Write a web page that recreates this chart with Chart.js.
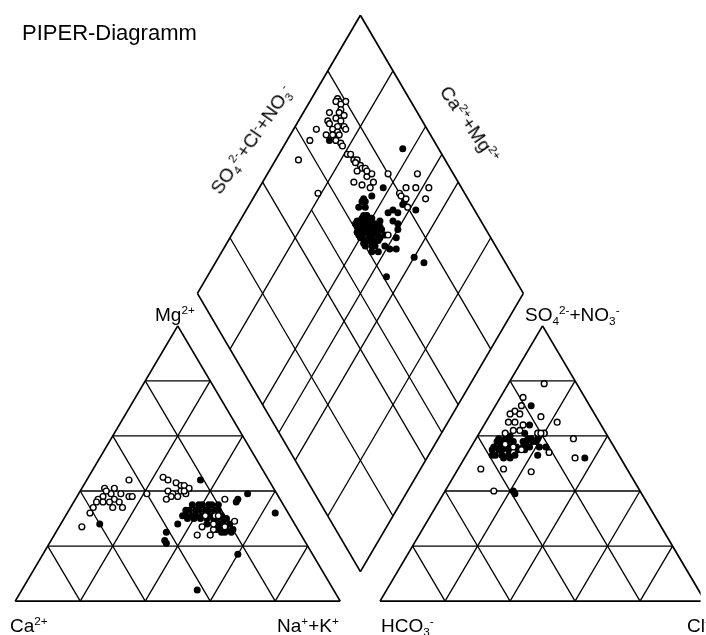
<!DOCTYPE html>
<html>
<head>
<meta charset="utf-8">
<script src="https://cdn.jsdelivr.net/npm/chart.js"></script>
<style>
  body { margin: 0; background: #fff; }
  #wrap { position: relative; width: 706px; height: 635px; overflow: hidden;
          font-family: "Liberation Sans", Arial, sans-serif; color: #000; }
  canvas { position: absolute; left: 0; top: 0; }
  .lbl { position: absolute; white-space: nowrap; line-height: 1; font-size: 19px; }
  .up { font-size: 0.62em; vertical-align: 0.62em; }
  .dn { font-size: 0.62em; vertical-align: -0.3em; }
  .rot { transform-origin: center; }
</style>
</head>
<body>
<div id="wrap">
  <canvas id="piper" width="706" height="635"></canvas>
  <div class="lbl" style="left:22px;top:22px;font-size:22px">PIPER-Diagramm</div>
  <div class="lbl" style="left:155px;top:304px">Mg<span class="up">2+</span></div>
  <div class="lbl" style="left:10px;top:615px">Ca<span class="up">2+</span></div>
  <div class="lbl" style="left:277px;top:615px">Na<span class="up">+</span>+K<span class="up">+</span></div>
  <div class="lbl" style="left:381px;top:615px">HCO<span class="dn">3</span><span class="up">-</span></div>
  <div class="lbl" style="left:687px;top:615px">Cl<span class="up">-</span></div>
  <div class="lbl" style="left:525px;top:304px">SO<span class="dn">4</span><span class="up">2-</span>+NO<span class="dn">3</span><span class="up">-</span></div>
  <div class="lbl rot" style="left:252px;top:140px;transform:translate(-50%,-50%) rotate(-55deg)">SO<span class="dn">4</span><span class="up">2-</span>+Cl<span class="up">-</span>+NO<span class="dn">3</span><span class="up">-</span></div>
  <div class="lbl rot" style="left:470px;top:124px;transform:translate(-50%,-50%) rotate(55deg)">Ca<span class="up">2+</span>+Mg<span class="up">2+</span></div>
</div>
<script>
// grid steps in percent
const gridSteps = [20, 40, 60, 80];
const halfStep = 50;

// cation triangle: [Na+K %, Mg %]
const cationOpen = [
  [13,44],[7,41],[10,41],[10,39],[13,39],[16,38],[17,38],[8,38],[7,37],[7,36],[7,34],[7,32],
  [12,37],[16,34],[13,34],[11,36],[14,36],[21,39],[7,27],[9,36],[8,40],
  [23,45],[25,44],[28,43],[30,42],[31,42],[33,41],[27,40],[29,39],[31,40],[33,39],[29,38],
  [31,38],[28,37],[32,40],
  [46,37],[53,29],[44,24],[48,24],[48,26],
  [43,31],[46,31],[44,27],[47,28],[51,27],[47,31]
];
const cationFilled = [
  [12,28],[35,44],[52,39],[50,37],[50,36],[64,32],[36,28],[34,25],[36,21],[35,22],[60,17],[54,4],
  [37,35],[39,35],[40,35],[42,35],[43,35],[45,35],
  [36,33],[37,33],[39,33],[40,33],[42,33],[43,33],[45,33],[46,33],
  [36,31],[37,31],[39,31],[40,31],[42,31],[44,31],[45,31],[47,31],[48,31],
  [38,30],[40,30],[42,30],[44,30],[46,30],[47,30],[49,30],[50,30],
  [45,28],[47,28],[49,28],[50,28],[52,28],
  [49,26],[50,26],[52,26],[54,26],
  [51,25],[52,25],[54,25]
];

// anion triangle: [Cl %, SO4+NO3 %]
const anionOpen = [
  [11,79],[7,74],[8,71],[7,69],[6,68],[9,68],[16,67],[22,65],[7,65],[9,65],[12,64],[10,62],
  [12,62],[18,61],[20,61],[19,61],[30,59],[25,54],[34,52],[7,48],[14,48],[23,47],[15,40],
  [10,57],[13,56],[16,55],[8,61]
];
const anionFilled = [
  [11,71],[14,64],[14,61],[20,61],[23,56],[37,52],[21,40],[22,39],[22,53],
  [9,60],[10,60],
  [7,59],[9,59],[10,59],[16,59],[17,59],[19,59],
  [7,58],[8,58],[10,58],[12,58],[15,58],[16,58],[18,58],[19,58],
  [7,56],[9,56],[10,56],[12,56],[14,56],[16,56],[17,56],[18,56],[21,56],
  [7,55],[9,55],[10,55],[12,55],[15,55],[17,55],
  [9,53],[11,53],[13,53],[15,53],[8,53],[14,52],[12,52]
];

// diamond: [SO4+Cl+NO3 %, Na+K %]
const diamondOpen = [
  [78,8],[78,9],[80,11],[77,8],[78,10],[77,11],[73,8],[76,11],[77,13],[74,11],[71,9],[75,13],
  [71,10],[73,13],[75,15],[71,12],[72,14],[75,16],[66,7],[62,7],[68,11],[70,13],[72,15],
  [70,15],[71,17],[71,18],[55,7],[55,19],
  [71,21],[72,22],[72,24],[73,25],[73,27],[73,28],[74,29],[71,27],[73,31],[75,32],[74,34],
  [68,28],[70,31],[72,34],[80,37],[72,25],[74,30],
  [89,46],[90,52],[86,48],[83,45],[87,53],[80,44],[80,45],[81,47],[80,49],
  [69,48]
];
const diamondFilled = [
  [68,13],[89,37],[76,38],[80,47],[82,52],[79,47],[76,47],[73,47],[74,49],[73,50],[71,51],
  [67,51],[69,53],[66,49],[73,60],[75,64],[61,55],[75,45],[73,44],[71,36],[68,34],
  [67,34],[68,35],[67,36],[65,34],
  [65,37],[66,38],
  [62,36],[64,37],[65,39],[67,40],
  [61,36],[63,37],[64,39],[66,40],[67,42],[69,43],
  [61,37],[62,38],[64,40],[65,41],[67,43],[68,44],
  [60,38],[62,39],[63,41],[65,42],[66,44],[68,45],
  [60,39],[61,40],[63,42],[64,43],[66,45],[68,47],
  [60,40],[61,42],[63,43],[64,45],[66,46],
  [60,42],[62,43],[63,45],[65,46],
  [60,43],[62,45],[63,46],
  [61,46],[63,48]
];

// layout of the three fields (canvas units)
const catTri = { a: {x: 10, y: 606}, b: {x: 340, y: 606}, c: {x: 175, y: 326} };
const anTri = { a: {x: 380.5, y: 606}, b: {x: 710.5, y: 606}, c: {x: 545.5, y: 326} };
const dia = { l: {x: 195, y: 293}, t: {x: 360.5, y: 10}, b: {x: 360.5, y: 576} };

function lerp(p, q, f) {
    return {x: p.x + (q.x - p.x) * f, y: p.y + (q.y - p.y) * f};
}

// right = share of the lower right corner, top = share of the apex
function triPoint(tri, right, top) {
    return {x: tri.a.x + (tri.b.x - tri.a.x) * right / 100 + (tri.c.x - tri.a.x) * top / 100,
            y: tri.a.y + (tri.b.y - tri.a.y) * right / 100 + (tri.c.y - tri.a.y) * top / 100};
}

function diaPoint(u, v) {
    return {x: dia.l.x + (dia.t.x - dia.l.x) * u / 100 + (dia.b.x - dia.l.x) * v / 100,
            y: dia.l.y + (dia.t.y - dia.l.y) * u / 100 + (dia.b.y - dia.l.y) * v / 100};
}

const datasets = [];

function addLine(p, q, w) {
    datasets.push({
        data: [p, q],
        showLine: true,
        borderColor: '#000',
        borderWidth: w || 1.3,
        pointRadius: 0,
        fill: false,
        order: 3
    });
}

function addPoints(pts, open) {
    datasets.push({
        data: pts,
        showLine: false,
        pointRadius: open ? 2.9 : 3.5,
        pointBorderWidth: open ? 1.4 : 0,
        pointBackgroundColor: open ? '#fff' : '#000',
        pointBorderColor: '#000',
        order: open ? 0 : 1
    });
}

function triGrid(tri) {
    addLine(tri.a, tri.b, 1.7);
    addLine(tri.b, tri.c, 1.7);
    addLine(tri.c, tri.a, 1.7);
    gridSteps.forEach(s => {
        const f = s / 100;
        addLine(lerp(tri.a, tri.c, f), lerp(tri.b, tri.c, f));
        addLine(lerp(tri.a, tri.b, f), lerp(tri.c, tri.b, f));
        addLine(lerp(tri.a, tri.b, f), lerp(tri.a, tri.c, f));
    });
}

triGrid(catTri);
triGrid(anTri);

const dR = diaPoint(100, 100);
addLine(dia.l, dia.t, 1.7);
addLine(dia.t, dR, 1.7);
addLine(dR, dia.b, 1.7);
addLine(dia.b, dia.l, 1.7);
gridSteps.forEach(s => {
    addLine(diaPoint(s, 0), diaPoint(s, 100));
    addLine(diaPoint(0, s), diaPoint(100, s));
});
addLine(diaPoint(halfStep, 20), diaPoint(halfStep, 100));
addLine(diaPoint(0, halfStep), diaPoint(100, halfStep));

addPoints(cationOpen.map(d => triPoint(catTri, d[0], d[1])), true);
addPoints(cationFilled.map(d => triPoint(catTri, d[0], d[1])), false);
addPoints(anionOpen.map(d => triPoint(anTri, d[0], d[1])), true);
addPoints(anionFilled.map(d => triPoint(anTri, d[0], d[1])), false);
addPoints(diamondOpen.map(d => diaPoint(d[0], d[1])), true);
addPoints(diamondFilled.map(d => diaPoint(d[0], d[1])), false);

const ctx = document.getElementById('piper').getContext('2d');
new Chart(ctx, {
    type: 'scatter',
    data: { datasets: datasets },
    options: {
        responsive: false,
        animation: false,
        layout: { padding: 0 },
        plugins: { legend: { display: false }, tooltip: { enabled: false } },
        scales: {
            x: { type: 'linear', min: 0, max: 706, display: false },
            y: { type: 'linear', min: 0, max: 635, reverse: true, display: false }
        }
    }
});
</script>
</body>
</html>
